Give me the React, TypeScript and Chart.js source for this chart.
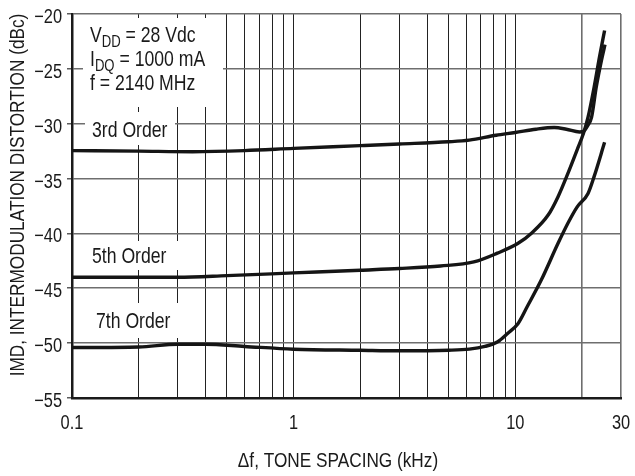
import React, { useEffect, useRef } from 'react';
import { Chart, registerables } from 'chart.js';

Chart.register(...registerables);

const FONT = '"Liberation Sans", Arial, sans-serif';
const INK = '#1a1a1a';
const SQUEEZE = 0.82;

// Axis ticks
const xTickValues = [0.1, 0.2, 0.3, 0.4, 0.5, 0.6, 0.7, 0.8, 0.9, 1, 2, 3, 4, 5, 6, 7, 8, 9, 10, 20, 30];
const xTickLabels = ['0.1', '1', '10', '30'];
const yTickValues = [-20, -25, -30, -35, -40, -45, -50, -55];

// 3rd order
const thirdX = [0.1, 0.2, 0.35, 0.6, 1, 2, 3, 5, 6.2, 8.2, 10, 12.4, 15, 17, 19.5, 20.3, 21.2, 22.1, 23.2, 24.5, 25.4];
const thirdY = [-32.45, -32.5, -32.55, -32.45, -32.25, -32.0, -31.85, -31.65, -31.5, -31.05, -30.8, -30.5, -30.35, -30.5, -30.75, -30.7, -30.2, -29.4, -26.65, -24.2, -22.8];

// 5th order
const fifthX = [0.1, 0.2, 0.3, 0.5, 1, 2, 3, 4.6, 6.5, 8.3, 10.3, 11.8, 14.1, 15.6, 17.3, 19.0, 20.3, 21.3, 22.7, 24.0, 25.3];
const fifthY = [-44.0, -44.0, -44.0, -43.85, -43.6, -43.35, -43.2, -42.97, -42.6, -41.8, -40.9, -40.0, -38.3, -36.65, -34.5, -32.4, -30.9, -29.4, -26.65, -23.9, -21.5];

// 7th order
const seventhX = [0.1, 0.2, 0.3, 0.4, 0.6, 1, 2, 3, 5, 6.2, 7.3, 8.3, 9.26, 10.3, 11.3, 13.1, 15.6, 17.3, 19.0, 21.3, 22.7, 25.3];
const seventhY = [-50.4, -50.35, -50.1, -50.1, -50.3, -50.55, -50.65, -50.7, -50.65, -50.55, -50.3, -49.9, -49.1, -48.2, -46.7, -44.25, -40.9, -39.05, -37.6, -36.35, -34.8, -31.7];

const toPoints = (xs: number[], ys: number[]) => xs.map((x, i) => ({ x, y: ys[i] }));

// condensed text: horizontally squeezed Liberation Sans (Arial Narrow proportions)
const text = (
  ctx: CanvasRenderingContext2D,
  s: string,
  x: number,
  y: number,
  size: number,
  align: CanvasTextAlign = 'left',
  rotate = 0,
) => {
  ctx.save();
  ctx.translate(x, y);
  if (rotate) ctx.rotate(rotate);
  ctx.scale(SQUEEZE, 1);
  ctx.font = `${size}px ${FONT}`;
  ctx.textAlign = align;
  ctx.textBaseline = 'alphabetic';
  ctx.fillStyle = INK;
  ctx.fillText(s, 0, 0);
  ctx.restore();
};

const width = (ctx: CanvasRenderingContext2D, s: string, size: number) => {
  ctx.save();
  ctx.font = `${size}px ${FONT}`;
  const w = ctx.measureText(s).width * SQUEEZE;
  ctx.restore();
  return w;
};

const subLine = (ctx: CanvasRenderingContext2D, x: number, y: number, main: string, sub: string, rest: string, size: number) => {
  const subSize = Math.round(size * 0.74);
  text(ctx, main, x, y, size);
  let w = width(ctx, main, size);
  text(ctx, sub, x + w, y + 5, subSize);
  w += width(ctx, sub, subSize);
  text(ctx, rest, x + w, y, size);
};

const textPlugin = {
  id: 'textPlugin',
  beforeDatasetsDraw(chart: any) {
    const ctx: CanvasRenderingContext2D = chart.ctx;
    ctx.save();
    ctx.fillStyle = '#ffffff';
    ctx.fillRect(83, 18, 140, 89);
    ctx.fillRect(85, 112, 90, 33);
    ctx.fillRect(83, 241, 95, 29);
    ctx.fillRect(86, 303, 92, 35);
    ctx.restore();
    const size = 21.5;
    subLine(ctx, 90, 42, 'V', 'DD', ' = 28 Vdc', size);
    subLine(ctx, 90, 66, 'I', 'DQ', ' = 1000 mA', size);
    text(ctx, 'f = 2140 MHz', 90, 89.5, size);
    text(ctx, '3rd Order', 92, 137, size);
    text(ctx, '5th Order', 92, 263, size);
    text(ctx, '7th Order', 96, 328, size);
  },
  afterDraw(chart: any) {
    const ctx: CanvasRenderingContext2D = chart.ctx;
    const xs = chart.scales.x;
    const ys = chart.scales.y;
    // tick labels
    for (const l of xTickLabels) {
      text(ctx, l, xs.getPixelForValue(parseFloat(l)), xs.top + 31, 20, 'center');
    }
    for (const v of yTickValues) {
      const s = v < 0 ? '\u2212' + Math.abs(v) : String(v);
      text(ctx, s, ys.right - 10, ys.getPixelForValue(v) + 9, 20, 'right');
    }
    // axis titles
    text(ctx, '\u0394f, TONE SPACING (kHz)', 338, 467, 21, 'center');
    text(ctx, 'IMD, INTERMODULATION DISTORTION (dBc)', 23.5, 195, 21, 'center', -Math.PI / 2);
  },
};

export default function App() {
  const ref = useRef<HTMLCanvasElement>(null);
  useEffect(() => {
    if (!ref.current) return;
    const line = (xs: number[], ys: number[]) => ({
      data: toPoints(xs, ys),
      borderColor: '#151515',
      borderWidth: 3.4,
      pointRadius: 0,
      fill: false,
      cubicInterpolationMode: 'monotone' as const,
    });
    const chart = new Chart(ref.current, {
      type: 'line',
      data: {
        datasets: [line(thirdX, thirdY), line(fifthX, fifthY), line(seventhX, seventhY)],
      },
      options: {
        animation: false,
        responsive: false,
        layout: { padding: { top: 14, right: 14, left: 0, bottom: 0 } },
        plugins: { legend: { display: false }, tooltip: { enabled: false } },
        scales: {
          x: {
            type: 'logarithmic',
            min: 0.1,
            max: 30,
            afterBuildTicks: (s: any) => {
              s.ticks = xTickValues.map((v) => ({ value: v }));
            },
            afterFit: (s: any) => {
              s.height = 78;
              s.paddingLeft = 0;
              s.paddingRight = 0;
            },
            ticks: { display: false, autoSkip: false, maxRotation: 0 },
            grid: {
              drawTicks: false,
              color: (c: any) => (c.tick && (c.tick.value === 20 || c.tick.value === 30) ? '#6e6e6e' : '#222222'),
              lineWidth: (c: any) => (c.tick && (c.tick.value === 20 || c.tick.value === 30) ? 1.6 : 1),
            },
            border: { color: INK, width: 2.5 },
          },
          y: {
            type: 'linear',
            min: -55,
            max: -20,
            afterBuildTicks: (s: any) => {
              s.ticks = yTickValues.map((v) => ({ value: v }));
            },
            afterFit: (s: any) => {
              s.width = 72;
              s.paddingTop = 0;
              s.paddingBottom = 0;
            },
            ticks: { display: false },
            grid: {
              color: '#6e6e6e',
              lineWidth: 1.6,
              tickLength: 5,
              tickColor: '#333333',
              tickWidth: 1.2,
            },
            border: { color: INK, width: 2.5 },
          },
        },
      },
      plugins: [textPlugin],
    });
    return () => chart.destroy();
  }, []);

  return (
    <div style={{ position: 'fixed', left: 0, top: 0, width: 635, height: 476, background: '#fff' }}>
      <canvas ref={ref} width={635} height={476} style={{ width: 635, height: 476 }} />
    </div>
  );
}
